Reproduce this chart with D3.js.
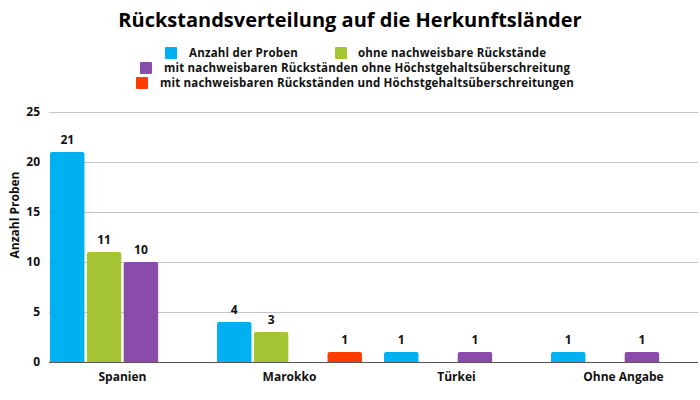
<!DOCTYPE html>
<html><head><meta charset="utf-8">
<script src="https://cdn.jsdelivr.net/npm/d3@7"></script>
<style>body{margin:0;background:#fff;} text{font-family:"Open Sans",sans-serif;}</style>
</head><body><svg id="c" width="700" height="400"></svg>
<script>
const categories = ["Spanien", "Marokko", "Türkei", "Ohne Angabe"];
const seriesNames = ["Anzahl der Proben", "ohne nachweisbare Rückstände", "mit nachweisbaren Rückständen ohne Höchstgehaltsüberschreitung", "mit nachweisbaren Rückständen und Höchstgehaltsüberschreitungen"];
const seriesColors = ["#00b0f0", "#a5c535", "#8b4baa", "#ff3c00"];
const anzahl = [21, 4, 1, 1];
const ohne = [11, 3, 0, 0];
const mitOhneUeber = [10, 0, 1, 1];
const mitUeber = [0, 1, 0, 0];
const yTicks = [0, 5, 10, 15, 20, 25];
const chartTitle = "Rückstandsverteilung auf die Herkunftsländer";
const yTitle = "Anzahl Proben";

const series = [anzahl, ohne, mitOhneUeber, mitUeber];
const svg = d3.select("#c");
const plotLeft = 49, plotRight = 698, plotTop = 112, plotBottom = 362;

const x0 = d3.scaleBand().domain(categories).range([39, 707]).paddingInner(0.132).paddingOuter(0.066);
const x1 = d3.scaleBand().domain(d3.range(series.length)).range([0, x0.bandwidth()]).paddingInner(0.065);
const y = d3.scaleLinear().domain([0, 25]).range([plotBottom, plotTop]);

svg.append("text").attr("x", 350).attr("y", 27).attr("text-anchor", "middle")
  .attr("font-size", 20).attr("font-weight", 700).attr("fill", "#000").text(chartTitle);

// legend
const legendItems = [
  {i:0, sx:165, tx:189, y:53},
  {i:1, sx:335, tx:358, y:53},
  {i:2, sx:140, tx:164, y:68},
  {i:3, sx:136, tx:160, y:83}
];
legendItems.forEach(d => {
  svg.append("rect").attr("x", d.sx).attr("y", d.y - 6).attr("width", 12).attr("height", 12).attr("rx", 1)
    .attr("fill", seriesColors[d.i]);
  svg.append("text").attr("x", d.tx).attr("y", d.y + 4).attr("font-size", 11.5).attr("font-weight", 700)
    .attr("letter-spacing", 0.2).attr("fill", "#111").text(seriesNames[d.i]);
});

// grid
svg.append("g").selectAll("line").data(yTicks.filter(t => t > 0)).join("line")
  .attr("x1", plotLeft).attr("x2", plotRight).attr("y1", d => y(d) + 0.5).attr("y2", d => y(d) + 0.5)
  .attr("stroke", "#c6c6c6").attr("stroke-width", 1);

// y tick labels
svg.append("g").selectAll("text").data(yTicks).join("text")
  .attr("x", 40).attr("y", d => y(d) + 4).attr("text-anchor", "end")
  .attr("font-size", 12).attr("font-weight", 700).attr("fill", "#111").text(d => d);

svg.append("text").attr("transform", "translate(19,215) rotate(-90)").attr("text-anchor", "middle")
  .attr("font-size", 12).attr("font-weight", 700).attr("fill", "#111").text(yTitle);

// bars
const data = [];
categories.forEach((c, ci) => series.forEach((s, si) => { if (s[ci] > 0) data.push({c, si, v: s[ci]}); }));
const g = svg.append("g");
g.selectAll("path").data(data).join("path")
  .attr("d", d => {
    const bx = x0(d.c) + x1(d.si), w = x1.bandwidth(), ty = y(d.v), r = 2;
    return `M${bx},${plotBottom}V${ty + r}Q${bx},${ty} ${bx + r},${ty}H${bx + w - r}Q${bx + w},${ty} ${bx + w},${ty + r}V${plotBottom}Z`;
  })
  .attr("fill", d => seriesColors[d.si]);

g.selectAll("text").data(data).join("text")
  .attr("x", d => x0(d.c) + x1(d.si) + x1.bandwidth() / 2).attr("y", d => y(d.v) - 8)
  .attr("text-anchor", "middle").attr("font-size", 12).attr("font-weight", 700).attr("fill", "#111").text(d => d.v);

// baseline
svg.append("line").attr("x1", plotLeft).attr("x2", plotRight).attr("y1", plotBottom + 0.5).attr("y2", plotBottom + 0.5)
  .attr("stroke", "#555").attr("stroke-width", 1);

// x labels
svg.append("g").selectAll("text").data(categories).join("text")
  .attr("x", d => x0(d) + x0.bandwidth() / 2).attr("y", 381).attr("text-anchor", "middle")
  .attr("font-size", 12).attr("font-weight", 700).attr("fill", "#111").text(d => d);
</script></body></html>
